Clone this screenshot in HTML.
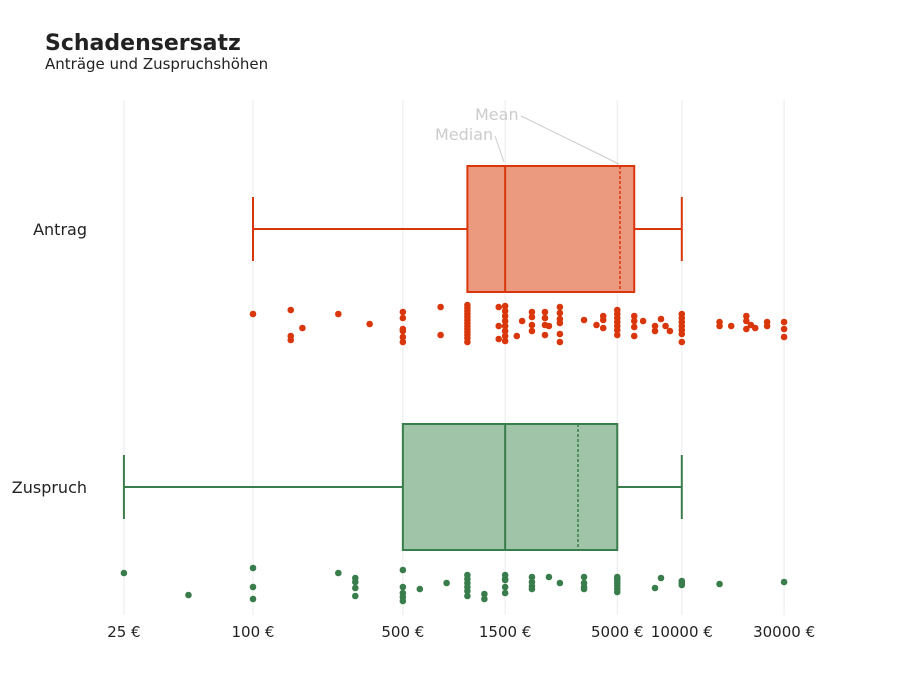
<!DOCTYPE html>
<html><head><meta charset="utf-8"><style>
body{margin:0;background:#fff;font-family:"DejaVu Sans","Liberation Sans",sans-serif}
svg text{font-family:"DejaVu Sans","Liberation Sans",sans-serif}
</style></head><body>
<svg id="chart" width="900" height="700" xmlns="http://www.w3.org/2000/svg" style="display:block">
<text x="45" y="50" font-size="22" font-weight="bold" fill="#222">Schadensersatz</text>
<text x="45" y="69" font-size="15" fill="#222">Anträge und Zuspruchshöhen</text>
<g id="grid"></g><g id="marks"></g><g id="axis"></g>
<text x="475" y="120" font-size="16" fill="#ccc">Mean</text>
<text x="435" y="140" font-size="16" fill="#ccc">Median</text>
<line x1="521" y1="116" x2="619" y2="164" stroke="#ccc" stroke-width="1"/>
<line x1="495" y1="136" x2="504" y2="162" stroke="#ccc" stroke-width="1"/>
</svg>
<script>
const ticks=[25,100,500,1500,5000,10000,30000];
const tickLabels=["25 €","100 €","500 €","1500 €","5000 €","10000 €","30000 €"];
const categories=["Antrag","Zuspruch"];
const mins=[100,25];
const q1s=[1000,500];
const medians=[1500,1500];
const q3s=[6000,5000];
const maxs=[10000,10000];
const means=[5150,3280];
const antragVals=[100,150,150,150,170,250,350,500,500,500,500,500,500,750,750,1000,1000,1000,1000,1000,1000,1000,1000,1000,1000,1000,1000,1000,1400,1400,1400,1500,1500,1500,1500,1500,1500,1500,1500,1700,1800,2000,2000,2000,2000,2300,2300,2300,2300,2400,2700,2700,2700,2700,2700,2700,3500,4000,4300,4300,4300,5000,5000,5000,5000,5000,5000,5000,6000,6000,6000,6000,6600,7500,7500,8000,8400,8800,10000,10000,10000,10000,10000,10000,10000,15000,15000,17000,20000,20000,20000,21000,22000,25000,25000,30000,30000,30000];
const antragJit=[-9,-13,13,17,5,-9,1,-11,-5,6,8,14,19,-16,12,-18,-15,-12,-9,-6,-3,0,3,6,9,12,15,19,-16,3,16,-17,-12,-7,-2,3,8,13,18,13,-2,-11,-6,2,8,-5,-11,2,12,3,-16,-10,-4,0,11,19,-3,2,-7,-3,5,-13,-9,-5,-1,3,7,12,-7,-2,4,13,-2,3,8,-4,3,8,-9,-5,-1,3,7,11,19,-1,3,3,-7,-2,6,2,5,-1,3,-1,6,14];
const zuspruchVals=[25,50,100,100,100,250,300,300,300,300,500,500,500,500,500,600,800,1000,1000,1000,1000,1000,1000,1200,1200,1500,1500,1500,1500,1500,2000,2000,2000,2000,2400,2700,3500,3500,3500,3500,5000,5000,5000,5000,5000,5000,5000,7500,8000,10000,10000,10000,15000,30000];
const zuspruchJit=[-12,10,-17,2,14,-12,-7,-3,3,11,-15,2,8,12,16,4,-2,-10,-6,-2,2,6,11,9,14,-10,-6,2,8,-5,-8,-3,1,4,-8,-2,-8,-2,2,4,-8,-5,-2,1,4,7,-6,3,-7,-4,-2,0,-1,-3];
const x=v=>253+(Math.log10(v)-2)*214.4;
const rowY=[229,487], stripY=[323,585];
const strokes=["#d9370b","#3a7d4c"], fills=["#eb9a80","#a0c4a8"];
const NS="http://www.w3.org/2000/svg";
function mk(p,t,a){const e=document.createElementNS(NS,t);for(const k in a)e.setAttribute(k,a[k]);p.appendChild(e);return e;}
const grid=document.getElementById('grid'),marks=document.getElementById('marks'),axis=document.getElementById('axis');
ticks.forEach((t,i)=>{
 const l=mk(grid,'line',{x1:x(t),x2:x(t),y1:100,y2:615,stroke:'#ebebeb','stroke-width':1});
 
 
 const tx=mk(axis,'text',{x:x(t),y:637,'text-anchor':'middle','font-size':15,fill:'#222'});
 tx.textContent=tickLabels[i];
 
 
});
categories.forEach((c,i)=>{
 const y=rowY[i],s=strokes[i];
 const lab=mk(axis,'text',{x:87,y:y+6,'text-anchor':'end','font-size':16,fill:'#222'});
 lab.textContent=c;
 
 
 const g=mk(marks,'g',{});
 
 
 mk(g,'line',{x1:x(mins[i]),x2:x(q1s[i]),y1:y,y2:y,stroke:s,'stroke-width':2});
 mk(g,'line',{x1:x(q3s[i]),x2:x(maxs[i]),y1:y,y2:y,stroke:s,'stroke-width':2});
 mk(g,'line',{x1:x(mins[i]),x2:x(mins[i]),y1:y-32,y2:y+32,stroke:s,'stroke-width':2});
 mk(g,'line',{x1:x(maxs[i]),x2:x(maxs[i]),y1:y-32,y2:y+32,stroke:s,'stroke-width':2});
 mk(g,'rect',{x:x(q1s[i]),y:y-63,width:x(q3s[i])-x(q1s[i]),height:126,fill:fills[i],stroke:s,'stroke-width':2});
 mk(g,'line',{x1:x(medians[i]),x2:x(medians[i]),y1:y-63,y2:y+63,stroke:s,'stroke-width':2});
 mk(g,'line',{x1:x(means[i]),x2:x(means[i]),y1:y-63,y2:y+63,stroke:s,'stroke-width':1.5,'stroke-dasharray':'3,2'});
 const vals=i?zuspruchVals:antragVals, jit=i?zuspruchJit:antragJit;
 vals.forEach((v,j)=>{
  const d=mk(marks,'circle',{cx:x(v),cy:stripY[i]+jit[j],r:3.3,fill:s});
  
  
 });
});
</script>
</body></html>
